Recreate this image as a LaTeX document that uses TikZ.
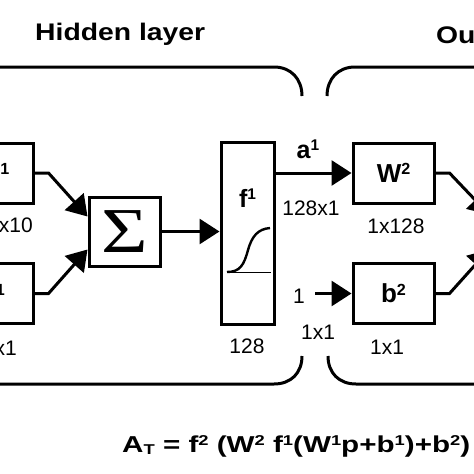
\documentclass[tikz,border=0pt]{standalone}
\usepackage{fontspec}
\setmainfont{Liberation Sans}
\newfontfamily\sigfont{Liberation Serif}
\usetikzlibrary{arrows.meta,calc}
\makeatletter
\newcommand\supx[1]{{\@tempdima=\f@size pt\relax\@tempdima=0.62\@tempdima\raisebox{0.3em}{\fontsize{\strip@pt\@tempdima}{\strip@pt\@tempdima}\selectfont #1}}}
\newcommand\subx[1]{{\@tempdima=\f@size pt\relax\@tempdima=0.62\@tempdima\raisebox{-0.12em}{\fontsize{\strip@pt\@tempdima}{\strip@pt\@tempdima}\selectfont #1}}}
\makeatother
\begin{document}
\begin{tikzpicture}[x=1pt,y=-1pt,
  blk/.style={draw, line width=3pt, minimum width=81pt, minimum height=60pt, inner sep=0pt,
    font=\bfseries\fontsize{26}{26}\selectfont},
  dimlab/.style={font=\fontsize{21}{21}\selectfont, inner sep=0pt, anchor=base},
  boldlab/.style={font=\bfseries\fontsize{25}{25}\selectfont, inner sep=0pt, anchor=base},
  con/.style={line width=3pt, -{Triangle[length=20pt,width=25pt]}},
  brk/.style={line width=3pt},
  ttl/.style={font=\bfseries\fontsize{24}{24}\selectfont, inner sep=0pt, anchor=base west}]
\useasboundingbox (0,0) rectangle (474,474);
\fill[white] (0,0) rectangle (474,474);

% titles
\node[ttl] (thid) at (35,40) {\scalebox{1.18}[1]{Hidden layer}};
\node[ttl] (tout) at (436,43) {\scalebox{1.18}[1]{Output layer}};

% brackets
\draw[brk] (-10,67) -- (274,67) .. controls (291,67) and (302,79) .. (302,96);
\draw[brk] (327,96) .. controls (327,79) and (338,67) .. (355,67) -- (485,67);
\draw[brk] (302,356) .. controls (302,373) and (291,384) .. (274,384) -- (-10,384);
\draw[brk] (328,356) .. controls (328,373) and (339,384) .. (356,384) -- (485,384);

% hidden layer blocks
\node[blk] (W1) at (-7.5,173) {W\supx{1}};
\node[blk] (b1) at (-7.5,293.5) {b\supx{1}};
\node[dimlab, anchor=base east] (lW1) at (33,232) {128x10};
\node[dimlab, anchor=base east] (lb1) at (17,355) {128x1};

\node[draw, line width=3pt, minimum width=71pt, minimum height=69pt, inner sep=0pt] (S) at (124.5,231.5)
  {\sigfont\fontsize{64}{64}\selectfont\scalebox{1.25}[1]{Σ}};

\node[draw, line width=3pt, minimum width=53pt, minimum height=182pt, inner sep=0pt] (f1) at (247.5,233) {};
\node[boldlab] (f1t) at (247.5,207) {f\supx{1}};
\draw[line width=0.9pt] (227,272) -- (271,272);
\draw[line width=2.4pt] (227,272) .. controls (240,272) and (244,265) .. (248,250)
  .. controls (252,236) and (258,229) .. (270,228);
\node[dimlab] (l128) at (247,353) {128};

% output layer blocks
\node[blk] (W2) at (393.5,173) {W\supx{2}};
\node[blk] (b2) at (393.5,293.5) {b\supx{2}};
\node[dimlab] (lW2) at (396,233) {1x128};
\node[dimlab] (lb2) at (387,354) {1x1};

\node[boldlab] (a1) at (308,158) {a\supx{1}};
\node[dimlab] (la1) at (311,215) {128x1};
\node[dimlab] (one) at (299,303) {1};
\node[dimlab] (lone) at (318,339) {1x1};

\coordinate (S2) at (489,231.5);

% connectors
\draw[con] (W1.east) -- ++(14,0) -- ($(S.west)+(0,-15)$);
\draw[con] (b1.east) -- ++(14,0) -- ($(S.west)+(0,18)$);
\draw[con] (S.east) -- (S.east -| f1.west);
\draw[con] (f1.east |- W2.west) -- (W2.west);
\draw[con] ([xshift=10pt]one.east |- b2.west) -- (b2.west);
\draw[con] (W2.east) -- ++(14,0) -- ($(S2)+(0,-17)$);
\draw[con] (b2.east) -- ++(14,0) -- ($(S2)+(0,18)$);

% formula
\node[font=\bfseries\fontsize{23}{23}\selectfont, inner sep=0pt, anchor=base west] (eq) at (122,452)
  {\resizebox{348pt}{\height}{A\subx{T} = f\supx{2} (W\supx{2} f\supx{1}(W\supx{1}p+b\supx{1})+b\supx{2})}};
\end{tikzpicture}
\end{document}
